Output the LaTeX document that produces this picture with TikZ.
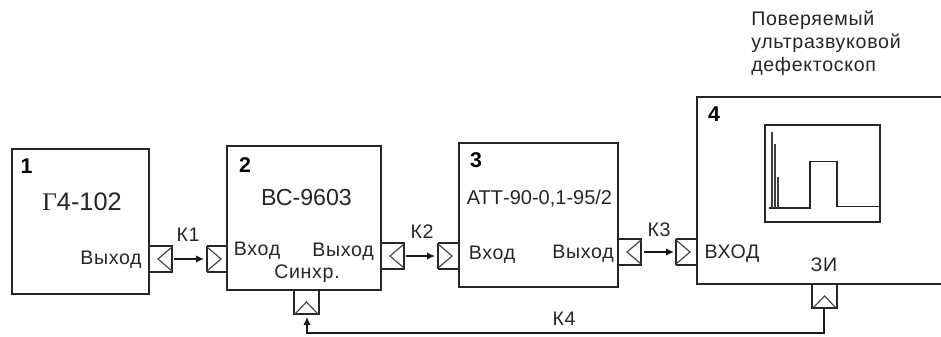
\documentclass[tikz,border=0pt]{standalone}
\usepackage{fontspec}
\setmainfont{Liberation Sans}
\newfontfamily\serifcyr{Liberation Serif}
\newfontfamily\spaced[LetterSpace=3.5]{Liberation Sans}
\usetikzlibrary{arrows.meta}
\tikzset{
  x=0.75pt,y=-0.75pt,
  wire/.style={line width=1.05pt,black!85},
  thin wire/.style={line width=0.85pt,black!75},
  spike/.style={line width=1.25pt,black!75},
  flow/.style={line width=0.8pt,black!90,-{Latex[length=6pt,width=5.5pt]}},
  txt/.style={inner sep=0pt,font=\spaced\fontsize{14.7pt}{15pt}\selectfont,text=black!85,anchor=base},
  ttl/.style={inner sep=0pt,text=black!85,anchor=base},
  num/.style={inner sep=0pt,font=\fontsize{16pt}{16pt}\selectfont\bfseries,anchor=base}
}
\begin{document}
\begin{tikzpicture}
\useasboundingbox (0,0) rectangle (941,336);
% boxes
\draw[wire] (12,149) rectangle (149,294);
\draw[wire] (227,146) rectangle (381,290);
\draw[wire] (459,143) rectangle (618,287);
\draw[wire] (941,97) -- (697,97) -- (697,284) -- (941,284);
% ports right-going outputs
\foreach \x/\y in {149/246, 381/243, 618/239}{
  \draw[wire] (\x,\y) rectangle +(23,26);
  \draw[thin wire] (\x+23,\y+1) -- (\x+9,\y+13) -- (\x+23,\y+25);
}
% ports inputs
\foreach \x/\y in {207/246, 438/243, 676/239}{
  \draw[wire] (\x,\y) -- +(21,0) (\x,\y+26) -- +(21,0);
  \draw[wire] (\x,\y) -- +(0,26);
  \draw[thin wire] (\x,\y+1) -- (\x+14,\y+13) -- (\x,\y+25);
}
% bottom ports
\foreach \x/\y in {294/290, 812/284}{
  \draw[wire] (\x,\y) -- (\x,\y+24) -- (\x+25,\y+24) -- (\x+25,\y);
  \draw[thin wire] (\x+1,\y+24) -- (\x+12.5,\y+12) -- (\x+24,\y+24);
}
% connectors
\coordinate (k1a) at (174,259); \coordinate (k1b) at (204,259);
\coordinate (k2a) at (406,256); \coordinate (k2b) at (435,256);
\coordinate (k3a) at (644,252); \coordinate (k3b) at (674,252);
\coordinate (k4a) at (824,308); \coordinate (k4b) at (824,333); \coordinate (k4c) at (307,333); \coordinate (k4d) at (307,317);
\draw[flow] (k1a) -- (k1b);
\draw[flow] (k2a) -- (k2b);
\draw[flow] (k3a) -- (k3b);
\draw[flow] (k4a) -- (k4b) -- (k4c) -- (k4d);
% screen
\draw[wire] (765,125) rectangle (880,222);
\draw[wire] (769,208) -- (810,208) -- (810,161.5) -- (837,161.5) -- (837,206.5) -- (880,206.5);
\draw[spike] (771.7,208) -- (771.7,132);
\draw[spike] (775,208) -- (775,144);
\draw[spike] (778,208) -- (778,177);
% texts
\node[num] (n1) at (26.5,173) {1};
\node[num] (n2) at (245,172) {2};
\node[num] (n3) at (476,167) {3};
\node[num] (n4) at (714,121) {4};
\node[ttl,font=\fontsize{19pt}{19pt}\selectfont] (t1) at (82,210) {{\serifcyr Г}4-102};
\node[ttl,font=\fontsize{17.4pt}{18pt}\selectfont] (t2) at (306.5,205) {ВС-9603};
\node[ttl,font=\fontsize{15pt}{15pt}\selectfont] (t3) at (539.5,204) {АТТ-90-0,1-95/2};
\node[txt] (o1) at (111,264) {Выход};
\node[txt] (i2) at (257,255) {Вход};
\node[txt] (o2) at (343,256) {Выход};
\node[txt] (s2) at (307,278) {Синхр.};
\node[txt] (i3) at (492,259) {Вход};
\node[txt] (o3) at (583,258) {Выход};
\node[txt] (i4) at (732,258) {ВХОД};
\node[txt] (zi) at (824,271) {ЗИ};
\node[txt] (k1) at (188,241) {К1};
\node[txt] (k2) at (422,238) {К2};
\node[txt] (k3) at (659,236) {К3};
\node[txt] (k4) at (564,325) {К4};
\node[txt,anchor=base west] (c1) at (751,25) {Поверяемый};
\node[txt,anchor=base west] (c2) at (751,48) {ультразвуковой};
\node[txt,anchor=base west] (c3) at (751,71) {дефектоскоп};
\end{tikzpicture}
\end{document}
